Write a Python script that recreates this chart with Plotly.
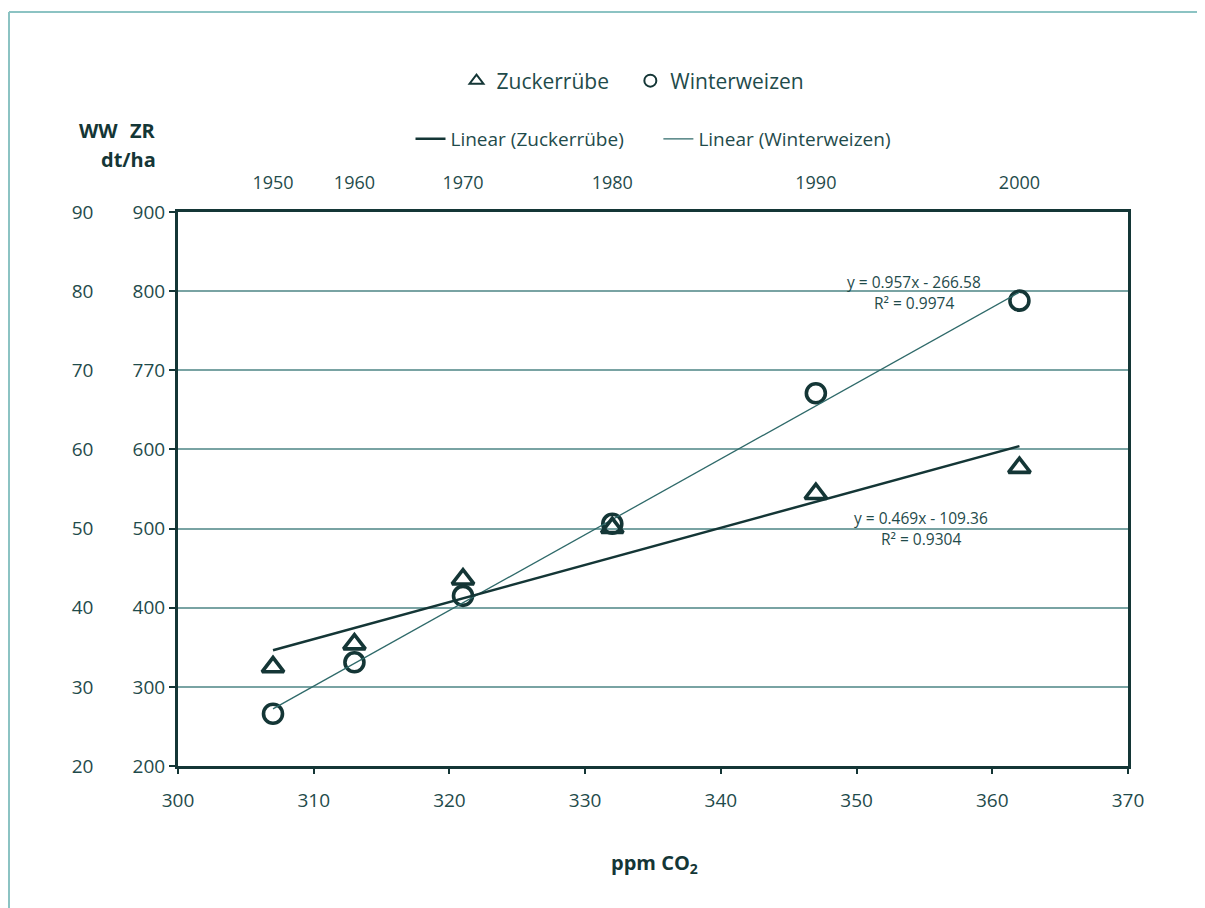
import plotly.graph_objects as go

# ---- data ----
ppm = [307, 313, 321, 332, 347, 362]
years = ["1950", "1960", "1970", "1980", "1990", "2000"]
ww_yield = [26.6, 33.1, 41.5, 50.6, 67.1, 78.8]          # Winterweizen, dt/ha (left scale)
zr_yield = [325, 354, 436, 501, 544, 577]                # Zuckerrübe, dt/ha (ZR scale)
ww_ticks = [20, 30, 40, 50, 60, 70, 80, 90]
zr_tickvals = [200, 300, 400, 500, 600, 700, 800, 900]
zr_ticktext = ["200", "300", "400", "500", "600", "770", "800", "900"]
x_ticks = [300, 310, 320, 330, 340, 350, 360, 370]
ww_fit = (0.957, -266.58)
zr_fit = (0.469, -109.36)
fit_x = [307, 362]

FONT = "Open Sans"
TXT = "#1f4b4b"
DARK = "#143636"
GRID = "#79a3a3"
NB = "\u00a0"

# page offset compensation (body margin)
OX, OY = 7, 7
PL, PT, PW, PH = 177 - OX, 211 - OY, 950, 554

fig = go.Figure()

fig.add_trace(go.Scatter(x=ppm, y=zr_yield, mode="markers", name="Zuckerrübe" + NB * 3,
                         yaxis="y2", legend="legend",
                         marker=dict(symbol="triangle-up-open", size=19,
                                     line=dict(width=3.6, color=DARK), color=DARK)))
fig.add_trace(go.Scatter(x=ppm, y=ww_yield, mode="markers", name="Winterweizen",
                         legend="legend",
                         marker=dict(symbol="circle-open", size=19,
                                     line=dict(width=3.6, color=DARK), color=DARK)))

zr_line = [10 * (zr_fit[0] * v + zr_fit[1]) for v in fit_x]
ww_line = [ww_fit[0] * v + ww_fit[1] for v in fit_x]
fig.add_trace(go.Scatter(x=fit_x, y=zr_line, mode="lines",
                         name="Linear (Zuckerrübe)" + NB * 6,
                         yaxis="y2", legend="legend2",
                         line=dict(color=DARK, width=2.5)))
fig.add_trace(go.Scatter(x=fit_x, y=ww_line, mode="lines", name="Linear (Winterweizen)",
                         legend="legend2",
                         line=dict(color="#2f6a6a", width=1.3)))
fig.add_trace(go.Scatter(x=ppm, y=ww_yield, xaxis="x2", mode="markers",
                         marker=dict(opacity=0), showlegend=False, hoverinfo="skip"))

fig.update_layout(
    width=1205, height=908,
    margin=dict(l=PL, r=1205 - PL - PW, t=PT, b=908 - PT - PH, autoexpand=False),
    paper_bgcolor="white", plot_bgcolor="white",
    font=dict(family=FONT, color=TXT, size=18),
    xaxis=dict(range=[300, 370], tickvals=x_ticks,
               showgrid=False, showline=True, linecolor=DARK, linewidth=2.5, mirror=True,
               ticks="outside", ticklen=5, tickcolor=DARK, tickwidth=2,
               tickfont=dict(size=19, color=TXT), zeroline=False, ticklabelstandoff=10),
    xaxis2=dict(range=[300, 370], overlaying="x", side="top", tickvals=ppm, ticktext=years,
                showgrid=False, showline=False, ticks="", tickfont=dict(size=18, color=TXT),
                zeroline=False, ticklabelstandoff=18),
    yaxis=dict(range=[20, 90], tickvals=ww_ticks, showgrid=False, showline=True,
               linecolor=DARK, linewidth=2.5, mirror=True, ticks="", zeroline=False,
               tickfont=dict(size=19, color=TXT), ticklabelstandoff=78),
    yaxis2=dict(range=[200, 900], overlaying="y", side="left", anchor="x",
                tickvals=zr_tickvals, ticktext=zr_ticktext,
                showgrid=True, gridcolor=GRID, gridwidth=2, showline=False,
                ticks="outside", ticklen=8, tickcolor=DARK, tickwidth=2,
                zeroline=False, tickfont=dict(size=19, color=TXT)),
    legend=dict(orientation="h", x=(632 - 177) / PW, xanchor="center",
                y=(765 - 80) / PH, yanchor="middle",
                font=dict(size=21, color=TXT), bgcolor="rgba(0,0,0,0)",
                itemsizing="constant"),
    legend2=dict(orientation="h", x=(652 - 177) / PW, xanchor="center",
                 y=(765 - 138) / PH, yanchor="middle",
                 font=dict(size=19, color=TXT), bgcolor="rgba(0,0,0,0)", itemwidth=30),
    showlegend=True,
)


def px2x(px):
    return (px - 177) / PW


def py2y(py):
    return (765 - py) / PH


annos = [
    ("y = 0.957x - 266.58", 913, 281),
    ("R² = 0.9974", 913, 302),
    ("y = 0.469x - 109.36", 920, 517),
    ("R² = 0.9304", 920, 538),
]
for txt, ax, ay in annos:
    fig.add_annotation(text=txt, xref="paper", yref="paper", x=px2x(ax), y=py2y(ay),
                       showarrow=False, xanchor="center", yanchor="middle",
                       font=dict(size=15.5, color=TXT, family=FONT))

for txt, ax, ay in [("<b>WW</b>", 119, 130), ("<b>ZR</b>", 157, 130), ("<b>dt/ha</b>", 157, 158)]:
    fig.add_annotation(text=txt, xref="paper", yref="paper", x=px2x(ax), y=py2y(ay),
                       xanchor="right", yanchor="middle", showarrow=False,
                       font=dict(size=20, color=DARK, family=FONT))
fig.add_annotation(text="<b>ppm CO<sub>2</sub></b>", xref="paper", yref="paper", x=px2x(653),
                   y=py2y(862), xanchor="center", yanchor="middle", showarrow=False,
                   font=dict(size=20, color=DARK, family=FONT))

fig.add_shape(type="line", xref="paper", yref="paper", x0=px2x(8), x1=px2x(1215),
              y0=py2y(11), y1=py2y(11), line=dict(color="#8cc3c3", width=2))
fig.add_shape(type="line", xref="paper", yref="paper", x0=px2x(8), x1=px2x(8),
              y0=py2y(11), y1=py2y(920), line=dict(color="#8cc3c3", width=2))

fig.write_html("out.html")
